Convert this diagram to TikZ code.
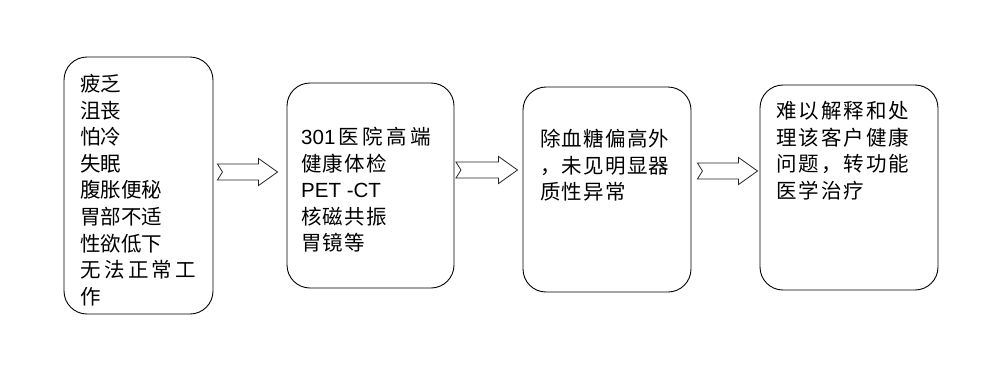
\documentclass[tikz,border=0pt]{standalone}
\usepackage{fontspec}
\setmainfont{Liberation Sans}
\newfontfamily\cjk{Noto Sans CJK SC}
\newfontfamily\cjkwide{Noto Sans CJK SC}[LetterSpace=10]
\newfontfamily\cjkmid{Noto Sans CJK SC}[LetterSpace=6]
\newfontfamily\lat{Liberation Sans}
\usetikzlibrary{calc}
\tikzset{
  box/.style={draw=black, line width=0.9pt, rounded corners=23pt, inner sep=0pt},
  boxtext/.style={anchor=north west, inner sep=0pt, align=left, font=\cjk\fontsize{20.5}{26.6}\selectfont},
  fatarrowline/.style={draw=black!85, line width=0.8pt, fill=white, line join=miter}
}
\newcommand\fatarrow[5]{%
  \draw[fatarrowline] let \p1=([xshift=#4]#1.east |- 0,#3), \p2=([xshift=-#5]#2.west |- 0,#3) in
   (\x1,\y1+8pt) -- (\x2-19pt,\y1+8pt) -- (\x2-19pt,\y1+13.5pt) -- (\x2,\y1)
   -- (\x2-19pt,\y1-13.5pt) -- (\x2-19pt,\y1-8pt) -- (\x1,\y1-8pt) -- (\x1+5pt,\y1) -- cycle;}
\begin{document}
\begin{tikzpicture}[x=1pt,y=-1pt]
\useasboundingbox[fill=white] (0,0) rectangle (1001,376);
\node[box, minimum width=149pt, minimum height=257pt] (b1) at (138.5,185.5) {};
\node[box, minimum width=167pt, minimum height=205pt] (b2) at (370.5,185.5) {};
\node[box, minimum width=168pt, minimum height=205pt] (b3) at (607,189.5) {};
\node[box, minimum width=178pt, minimum height=205pt] (b4) at (849,187.5) {};
\node[boxtext] (t1) at (80,74) {疲乏\\沮丧\\怕冷\\失眠\\腹胀便秘\\胃部不适\\性欲低下\\无\,法\,正\,常\,工\\作};
\node[boxtext, font=\cjkmid\fontsize{20.5}{26.6}\selectfont] (t2) at (301,127) {{\lat 301}\,医\,院\,高\,端\\健康体检\\{\lat PET -CT}\\核磁共振\\胃镜等};
\node[boxtext, font=\cjkmid\fontsize{20.5}{26.6}\selectfont] (t3) at (540,129) {除血糖偏高外\\，未见明显器\\质性异常};
\node[boxtext, font=\cjkwide\fontsize{20.5}{26.6}\selectfont] (t4) at (776,101) {难以解释和处\\理该客户健康\\问题，转功能\\医学治疗};
\fatarrow{b1}{b2}{172}{4pt}{9pt}
\fatarrow{b2}{b3}{170}{1.5pt}{5pt}
\fatarrow{b3}{b4}{171}{6pt}{2pt}
\end{tikzpicture}
\end{document}
